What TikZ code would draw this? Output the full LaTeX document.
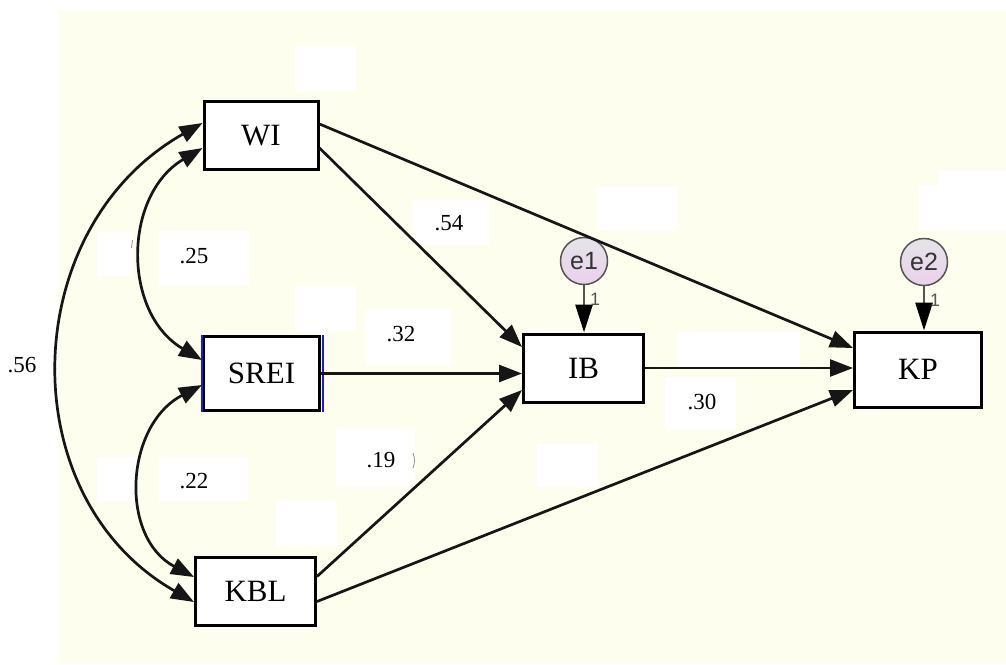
\documentclass[tikz,border=0pt]{standalone}
\usepackage{fontspec}
\setmainfont{Liberation Serif}
\newfontfamily\arialfont{Liberation Sans}
\usetikzlibrary{arrows.meta}
\definecolor{bgyellow}{RGB}{254,254,238}
\definecolor{linegray}{RGB}{22,22,22}
\definecolor{egray}{RGB}{85,85,85}
\definecolor{etop}{RGB}{228,228,232}
\definecolor{ebot}{RGB}{236,208,236}
\definecolor{sreiblue}{RGB}{25,25,235}
\begin{document}
\begin{tikzpicture}[x=1pt,y=-1pt,
  var/.style={draw=black, fill=white, line width=3pt, inner sep=0pt, font=\fontsize{31}{31}\selectfont},
  err/.style={circle, draw=egray, line width=1.5pt, top color=etop, bottom color=ebot, minimum size=47pt, inner sep=0pt, font=\arialfont\fontsize{25}{25}\selectfont, text=black!80},
  pathline/.style={draw=linegray, line width=2.7pt, -{Triangle[length=23pt,width=17pt]}},
  covline/.style={draw=linegray, line width=2.7pt, {Triangle[length=23pt,width=17pt]}-{Triangle[length=23pt,width=17pt]}},
  errline/.style={draw=egray, line width=2.8pt, -{Triangle[length=28pt,width=17pt,color=black]}},
  maskbox/.style={fill=white, draw=none},
  coef/.style={font=\fontsize{23}{23}\selectfont, inner sep=0pt},
  onelabel/.style={font=\arialfont\fontsize{18}{18}\selectfont, text=egray, inner sep=0pt},
  tick/.style={draw=black!45, line width=0.8pt}
]
\useasboundingbox (0,0) rectangle (1006,664);
\fill[bgyellow] (58,10) rectangle (1006,664);

% white masks
\fill[maskbox] (295,46) rectangle (356,91);
\fill[maskbox] (97,232) rectangle (133,276);
\fill[maskbox] (159,231) rectangle (249,286);
\fill[maskbox] (295,286) rectangle (356,331);
\fill[maskbox] (366,310) rectangle (451,365);
\fill[maskbox] (413,200) rectangle (489,245);
\fill[maskbox] (597,186) rectangle (678,231);
\fill[maskbox] (678,332) rectangle (800,367);
\fill[maskbox] (665,377) rectangle (736,430);
\fill[maskbox] (938,170) rectangle (1006,231);
\fill[maskbox] (919,185) rectangle (1006,231);
\fill[maskbox] (159,457) rectangle (248,501);
\fill[maskbox] (97,457) rectangle (137,501);
\fill[maskbox] (276,501) rectangle (337,546);
\fill[maskbox] (336,429) rectangle (415,487);
\fill[maskbox] (537,444) rectangle (598,487);

% small residual marks
\draw[tick] (132.5,240) -- (131.5,248);
\draw[tick] (56,357) .. controls (54,361) and (54,365) .. (56,369);
\draw[tick] (413,453) .. controls (415,458) and (415,463) .. (413,468);

% variables
\node[var, minimum width=114pt, minimum height=68pt] (wi) at (261,135.5) {WI};
\node[var, minimum width=116pt, minimum height=74pt] (srei) at (261.5,373.5) {SREI};
\node[var, minimum width=120pt, minimum height=68pt] (ib) at (583.5,368) {IB};
\node[var, minimum width=127pt, minimum height=75pt] (kp) at (918,369.5) {KP};
\node[var, minimum width=120pt, minimum height=68pt] (kbl) at (255.5,591.5) {KBL};
\draw[sreiblue, line width=2.4pt] (srei.north west) -- (srei.south west);
\draw[sreiblue, line width=1.5pt] ([xshift=1.8pt]srei.north east) -- ([xshift=1.8pt]srei.south east);

% error terms
\node[err] (e1) at (584,261) {e1};
\node[err] (e2) at (924,262) {e2};
\draw[errline] (e1) -- (e1 |- ib.north);
\draw[errline] (e2) -- (e2 |- kp.north);
\node[onelabel] (one1) at (595,299) {1};
\node[onelabel] (one2) at (935,300) {1};

% regression paths
\draw[pathline] ([yshift=11.5pt]wi.east) -- ([yshift=21.5pt]kp.west);
\draw[pathline] ([yshift=-12.5pt]wi.east) -- ([yshift=21pt]ib.west);
\draw[pathline] (srei.east) -- (srei.east -| ib.west);
\draw[pathline] ([yshift=15pt]kbl.east) -- ([yshift=-22pt]ib.west);
\draw[pathline] (ib.east) -- (ib.east -| kp.west);
\draw[pathline] ([yshift=-10pt]kbl.east) -- ([yshift=-20.5pt]kp.west);

% covariances
\draw[covline] ([yshift=-12.5pt]wi.west) .. controls (123,195) and (122,313) .. ([yshift=13.5pt]srei.west);
\draw[covline] ([yshift=-11.5pt]srei.west) .. controls (125,425) and (119,537) .. ([yshift=14.5pt]kbl.west);
\draw[covline] ([yshift=12.5pt]wi.west) .. controls (17,228) and (10,497) .. ([yshift=-10.5pt]kbl.west);

% coefficients
\node[coef] (c54) at (449,223) {.54};
\node[coef] (c32) at (401,334) {.32};
\node[coef] (c25) at (194,256) {.25};
\node[coef] (c22) at (194,481) {.22};
\node[coef] (c19) at (381,460) {.19};
\node[coef] (c30) at (702,402) {.30};
\node[coef] (c56) at (22,365) {.56};
\end{tikzpicture}
\end{document}
